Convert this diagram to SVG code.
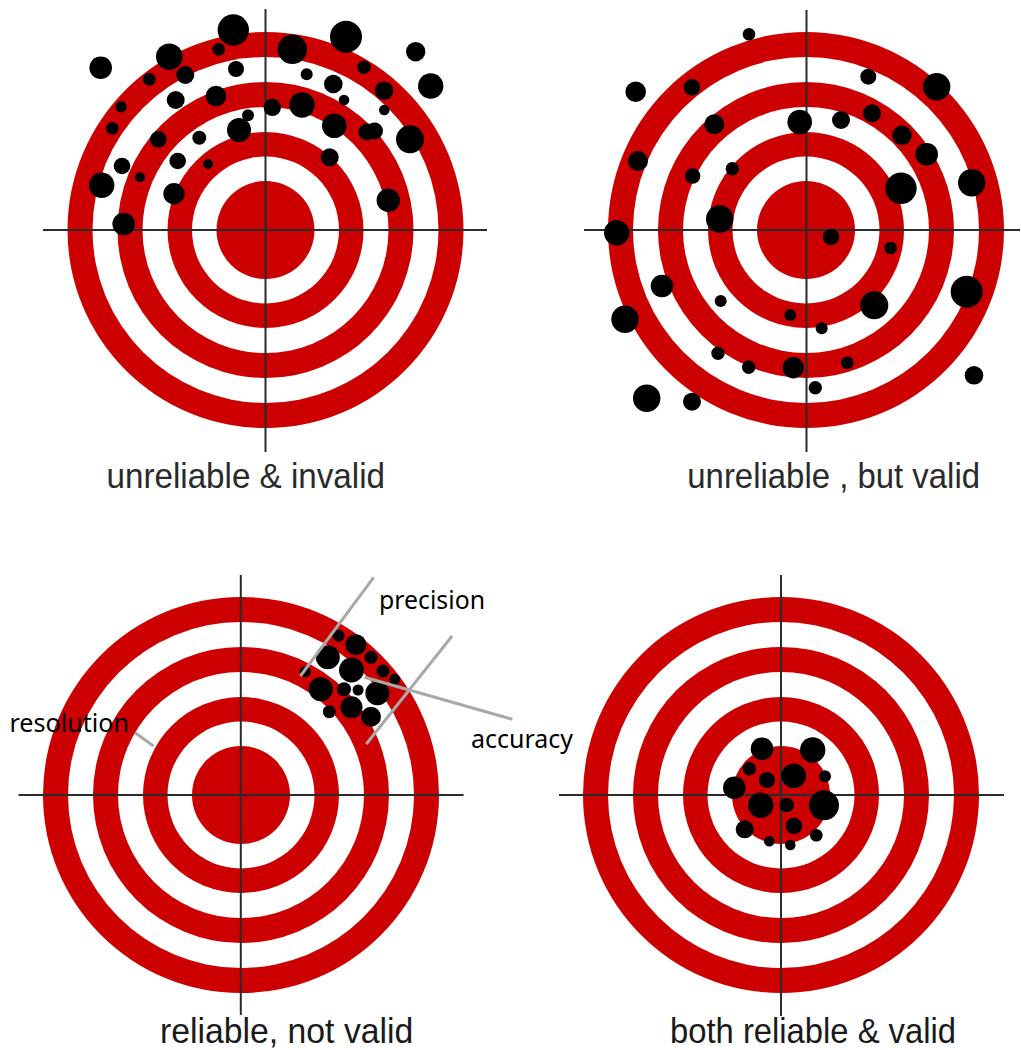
<svg xmlns="http://www.w3.org/2000/svg" xmlns:xlink="http://www.w3.org/1999/xlink" width="1021" height="1050" viewBox="0 0 1021 1050">
<style>
.red{fill:#cc0000}
.wht{fill:#ffffff}
.cross{stroke:#2b2b2b;stroke-width:2;fill:none}
.dots circle{fill:#000000}
.cap{font-family:"Liberation Sans",Arial,sans-serif;font-size:35px;fill:#2a2a2a}
.note{font-family:"Noto Sans","Open Sans",sans-serif;font-size:25px;fill:#000000}
.lead{stroke:#a9a9a9;stroke-width:3;fill:none}
</style>
<defs>
<g id="rings">
<circle r="198" class="red"/>
<circle r="173" class="wht"/>
<circle r="148" class="red"/>
<circle r="123" class="wht"/>
<circle r="98" class="red"/>
<circle r="73.5" class="wht"/>
<circle r="49" class="red"/>
</g>
</defs>
<rect width="1021" height="1050" fill="#ffffff"/>

<g id="target-unreliable-invalid">
<use xlink:href="#rings" href="#rings" x="265.5" y="230"/>
<path class="cross" d="M43 230H487M265.5 9V452"/>
<g class="dots">
<circle cx="233.3" cy="30" r="15.7"/>
<circle cx="346" cy="36.7" r="16"/>
<circle cx="292.3" cy="49.3" r="14.7"/>
<circle cx="169.3" cy="56.7" r="13.3"/>
<circle cx="100.7" cy="67.7" r="11.3"/>
<circle cx="218.7" cy="49.3" r="6.3"/>
<circle cx="415.7" cy="51.7" r="9.7"/>
<circle cx="430.7" cy="86" r="12.7"/>
<circle cx="236" cy="69" r="8"/>
<circle cx="185.3" cy="75" r="9"/>
<circle cx="149.3" cy="79.3" r="6.3"/>
<circle cx="306.7" cy="74.3" r="6"/>
<circle cx="333.3" cy="84" r="9.3"/>
<circle cx="364" cy="67.3" r="6.7"/>
<circle cx="384" cy="90.7" r="9.3"/>
<circle cx="216" cy="96" r="10.3"/>
<circle cx="175.7" cy="100" r="9"/>
<circle cx="121" cy="106.7" r="5.7"/>
<circle cx="272.3" cy="107.3" r="8.7"/>
<circle cx="302" cy="105" r="12.7"/>
<circle cx="344" cy="100" r="5.3"/>
<circle cx="384.3" cy="110" r="5.3"/>
<circle cx="248" cy="115.3" r="6"/>
<circle cx="112.3" cy="128.3" r="6.3"/>
<circle cx="239" cy="130" r="12"/>
<circle cx="334.3" cy="125.7" r="12.3"/>
<circle cx="367" cy="132" r="8.5"/>
<circle cx="374.5" cy="131" r="8.5"/>
<circle cx="410" cy="139.3" r="14"/>
<circle cx="158.3" cy="139.3" r="8.3"/>
<circle cx="199.3" cy="137.7" r="7"/>
<circle cx="122" cy="166" r="8.3"/>
<circle cx="177.7" cy="161" r="8.3"/>
<circle cx="208" cy="164" r="5"/>
<circle cx="329.7" cy="157.3" r="9"/>
<circle cx="101.7" cy="185.3" r="12.7"/>
<circle cx="140" cy="177.3" r="5"/>
<circle cx="174" cy="193.7" r="10.7"/>
<circle cx="388.3" cy="200.3" r="11.7"/>
<circle cx="123.7" cy="224" r="11.3"/>
</g>
<text class="cap" x="106.5" y="488.3" textLength="278.5" lengthAdjust="spacingAndGlyphs">unreliable  &amp; invalid</text>
</g>

<g id="target-unreliable-valid">
<use xlink:href="#rings" href="#rings" x="806" y="230"/>
<path class="cross" d="M584 230H1020M806.5 10V452"/>
<g class="dots">
<circle cx="749" cy="34.3" r="6.3"/>
<circle cx="635.7" cy="91.7" r="10.3"/>
<circle cx="692" cy="87.3" r="8.3"/>
<circle cx="868.3" cy="76.7" r="8"/>
<circle cx="936.7" cy="86.7" r="13.7"/>
<circle cx="714.3" cy="124.3" r="10"/>
<circle cx="799.7" cy="122" r="12.3"/>
<circle cx="841" cy="120" r="9"/>
<circle cx="872" cy="113.3" r="9"/>
<circle cx="902" cy="135.3" r="9.7"/>
<circle cx="926.7" cy="154.3" r="11.3"/>
<circle cx="638" cy="161" r="10"/>
<circle cx="692.7" cy="176" r="7.7"/>
<circle cx="732.3" cy="168.7" r="6.7"/>
<circle cx="901" cy="188.3" r="15.7"/>
<circle cx="971.7" cy="182.7" r="13.7"/>
<circle cx="719.7" cy="219" r="13.7"/>
<circle cx="616.7" cy="232.7" r="12.7"/>
<circle cx="831" cy="237" r="8.3"/>
<circle cx="890.7" cy="248" r="6.3"/>
<circle cx="662" cy="286" r="11.3"/>
<circle cx="966.7" cy="291.7" r="16"/>
<circle cx="874.3" cy="305.3" r="14"/>
<circle cx="720.7" cy="301" r="6"/>
<circle cx="790.3" cy="315" r="6"/>
<circle cx="821.7" cy="328.3" r="6"/>
<circle cx="625" cy="319.3" r="13.7"/>
<circle cx="718" cy="353.3" r="6.7"/>
<circle cx="748.7" cy="367.3" r="6.7"/>
<circle cx="793.3" cy="367.7" r="10.7"/>
<circle cx="847.3" cy="362.7" r="6.3"/>
<circle cx="974" cy="375.3" r="9.3"/>
<circle cx="815.3" cy="387.7" r="6.7"/>
<circle cx="646.7" cy="398.3" r="13.7"/>
<circle cx="692" cy="401.7" r="9"/>
</g>
<text class="cap" x="687.3" y="488.3" textLength="292.7" lengthAdjust="spacingAndGlyphs">unreliable , but valid</text>
</g>

<g id="target-reliable-not-valid">
<use xlink:href="#rings" href="#rings" x="241" y="795"/>
<path class="cross" d="M18.5 795H463.5M240.8 575V1015"/>
<g class="dots">
<circle cx="338.5" cy="635.7" r="6"/>
<circle cx="355.9" cy="644.7" r="10.5"/>
<circle cx="327.8" cy="657.3" r="12"/>
<circle cx="371" cy="657.3" r="6.5"/>
<circle cx="351.5" cy="670" r="12.5"/>
<circle cx="383" cy="671" r="6.5"/>
<circle cx="305.2" cy="671.7" r="5.5"/>
<circle cx="394.7" cy="679.3" r="5.5"/>
<circle cx="320.8" cy="689.3" r="12"/>
<circle cx="344" cy="689.3" r="7"/>
<circle cx="358.1" cy="690" r="5.5"/>
<circle cx="377.4" cy="693.3" r="12"/>
<circle cx="351.5" cy="707.3" r="11"/>
<circle cx="329.3" cy="711.7" r="6.5"/>
<circle cx="371" cy="716.7" r="10"/>
</g>
<text class="cap" x="160" y="1043.3" fill="#1a1a1a" style="fill:#1a1a1a" textLength="253.3" lengthAdjust="spacingAndGlyphs">reliable, not valid</text>
</g>

<g id="target-reliable-valid">
<use xlink:href="#rings" href="#rings" x="781" y="795"/>
<path class="cross" d="M559 795H1004M781 575V1016"/>
<g class="dots">
<circle cx="762" cy="748.7" r="11.3"/>
<circle cx="812.7" cy="750" r="12.7"/>
<circle cx="749.3" cy="768.7" r="6.7"/>
<circle cx="767" cy="780" r="8"/>
<circle cx="793.7" cy="775.7" r="12.3"/>
<circle cx="825" cy="776.3" r="6"/>
<circle cx="734.3" cy="787.7" r="11.3"/>
<circle cx="760.7" cy="805.3" r="12.7"/>
<circle cx="786.7" cy="805" r="7.3"/>
<circle cx="824" cy="805.3" r="15"/>
<circle cx="794" cy="826" r="8.3"/>
<circle cx="744.7" cy="829.3" r="9"/>
<circle cx="816.3" cy="835.3" r="6.3"/>
<circle cx="769.3" cy="841.3" r="5.3"/>
<circle cx="790.3" cy="845" r="5.3"/>
</g>
<text class="cap" x="670" y="1043.3" style="fill:#1a1a1a" textLength="286" lengthAdjust="spacingAndGlyphs">both reliable &amp; valid</text>
</g>

<g id="connectors">
<line class="lead" x1="373.7" y1="577.3" x2="300.4" y2="676"/>
<line class="lead" x1="452.1" y1="636" x2="366.3" y2="744"/>
<line class="lead" x1="364.4" y1="677.3" x2="512.4" y2="719.3"/>
<line class="lead" x1="135" y1="732.7" x2="153.5" y2="746"/>
</g>

<g id="annotations">
<text id="label-precision" class="note" x="379" y="608.8" textLength="106" lengthAdjust="spacingAndGlyphs">precision</text>
<text id="label-accuracy" class="note" x="471" y="748.3" textLength="102" lengthAdjust="spacingAndGlyphs">accuracy</text>
<text id="label-resolution" class="note" x="9.5" y="732.3" textLength="119.5" lengthAdjust="spacingAndGlyphs">resolution</text>
</g>
</svg>
